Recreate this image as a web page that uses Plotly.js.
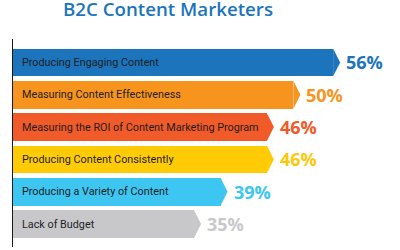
<!DOCTYPE html>
<html>
<head>
<meta charset="utf-8">
<script src="https://cdn.plot.ly/plotly-3.0.1.min.js"></script>
<style>html,body{margin:0;padding:0;background:#ffffff;}#chart{width:400px;height:250px;}</style>
</head>
<body>
<div id="chart"></div>
<script>
const titleText = 'B2C Content Marketers';
const categories = [
  'Producing Engaging Content',
  'Measuring Content Effectiveness',
  'Measuring the ROI of Content Marketing Program',
  'Producing Content Consistently',
  'Producing a Variety of Content',
  'Lack of Budget'
];
const values = [56, 50, 46, 46, 39, 35];
const valueLabels = ['56%', '50%', '46%', '46%', '39%', '35%'];
const barColors = ['#1c75bc', '#f7941d', '#f15a29', '#ffcb05', '#3ec6f2', '#c8c8ca'];
const labelColors = ['#1c75bc', '#f7941d', '#f15a29', '#fdc70c', '#3ec6f2', '#c8c8ca'];

const idx = categories.map((c, i) => i);
const barWidth = 0.86;
const tipLen = 1.06;

const barTrace = {
  type: 'bar',
  orientation: 'h',
  x: values,
  y: idx,
  width: barWidth,
  marker: {color: barColors, line: {width: 0}},
  hoverinfo: 'none',
  showlegend: false
};

const shapes = values.map((v, i) => ({
  type: 'path',
  xref: 'x', yref: 'y',
  path: `M ${v},${i - barWidth / 2} L ${v + tipLen},${i} L ${v},${i + barWidth / 2} Z`,
  fillcolor: barColors[i],
  line: {width: 0}
}));

const catAnnotations = categories.map((c, i) => ({
  xref: 'paper', yref: 'y', x: 0, y: i,
  xanchor: 'left', yanchor: 'middle', xshift: 7,
  text: c, showarrow: false,
  font: {family: 'Roboto, sans-serif', size: 10.8, color: '#1e1e24'}
}));

const valAnnotations = values.map((v, i) => ({
  xref: 'x', yref: 'y', x: v + tipLen, y: i,
  xanchor: 'left', yanchor: 'middle', xshift: 4,
  text: valueLabels[i], showarrow: false,
  font: {family: 'Open Sans, sans-serif', size: 18, weight: 700, color: labelColors[i]}
}));

const layout = {
  width: 400, height: 250,
  margin: {l: 13, r: 0, t: 39, b: 3},
  paper_bgcolor: '#ffffff',
  plot_bgcolor: 'rgba(0,0,0,0)',
  title: {
    text: titleText,
    x: 0.1575, xanchor: 'left',
    y: 0.962, yanchor: 'middle', yref: 'container',
    font: {family: 'Open Sans, sans-serif', size: 18.7, weight: 600, color: '#1c75bc'}
  },
  xaxis: {
    range: [7.66, 66.1],
    visible: false,
    fixedrange: true
  },
  yaxis: {
    range: [5.71, -0.725],
    showline: true, linecolor: '#1a1a1a', linewidth: 1.5,
    showticklabels: false, showgrid: false, zeroline: false, ticks: '',
    fixedrange: true
  },
  shapes: shapes,
  annotations: catAnnotations.concat(valAnnotations),
  bargap: 0
};

Plotly.newPlot('chart', [barTrace], layout, {displayModeBar: false, staticPlot: true});
</script>
</body>
</html>
